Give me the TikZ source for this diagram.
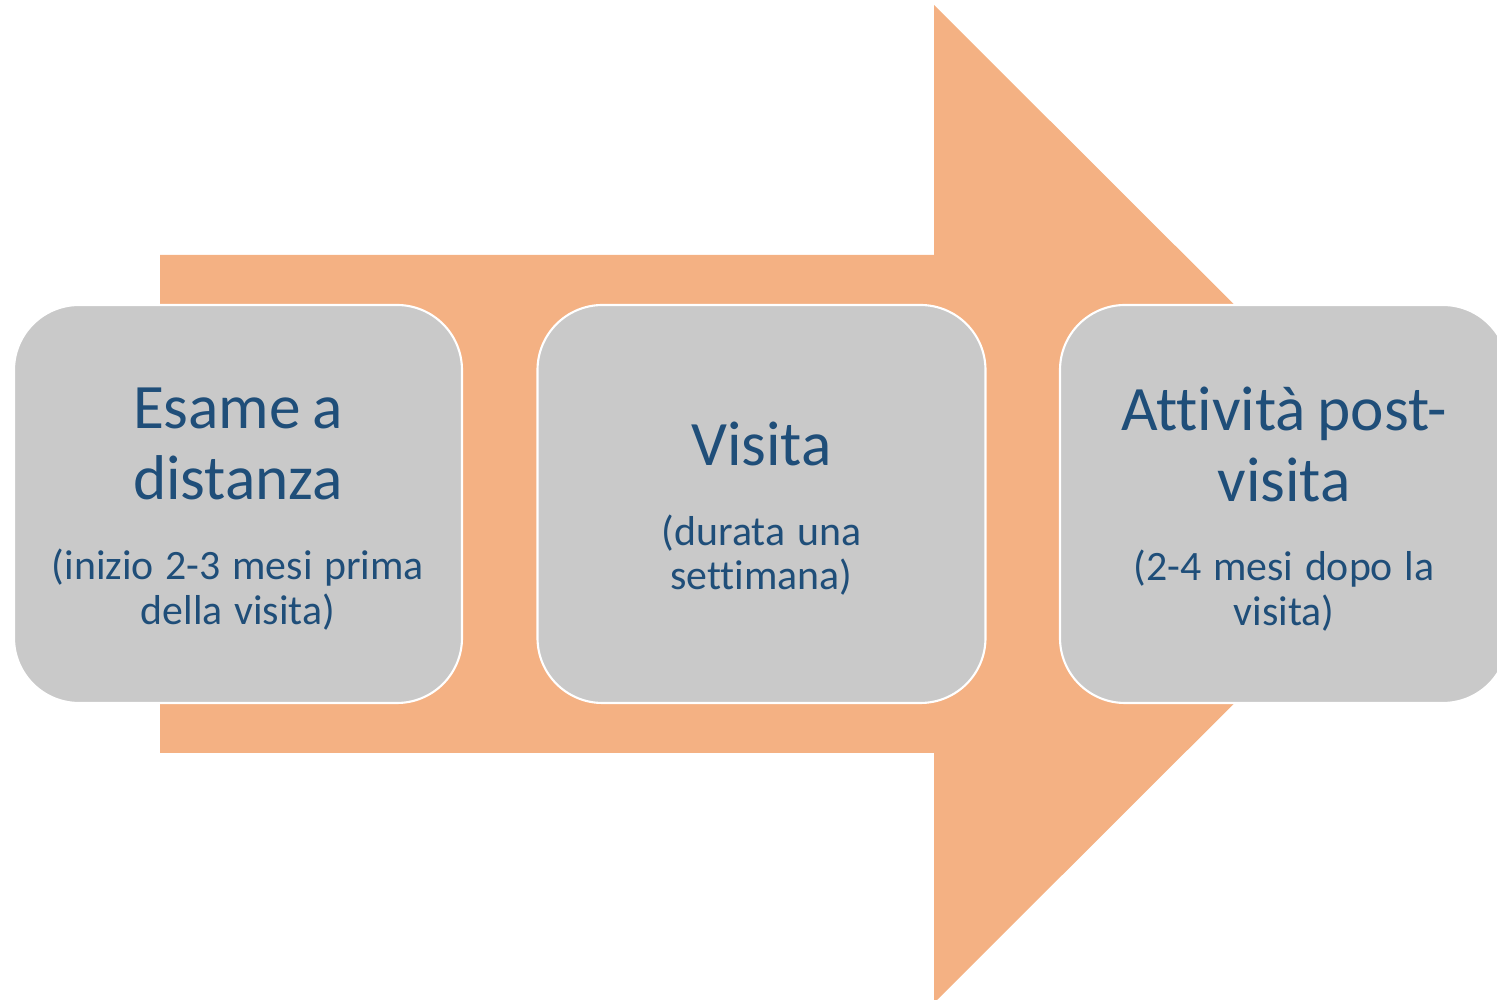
\documentclass[tikz,border=0pt]{standalone}
\usepackage{fontspec}
\setmainfont{Carlito}[Ligatures=NoCommon]

\definecolor{freccia}{HTML}{F4B183}
\definecolor{grigio}{HTML}{C9C9C9}
\definecolor{blu}{HTML}{1F4E79}

\newcommand{\titolo}[1]{{\fontsize{18}{20.2}\selectfont #1\par}}
\newcommand{\nota}[1]{\vspace{10pt}{\fontsize{11.9}{12.7}\selectfont #1\par}\vspace{-2.8pt}}

\tikzset{
  tappa/.style={draw=white, line width=0.6pt, fill=grigio, rounded corners=0.65cm,
    minimum width=4.48cm, minimum height=3.98cm, text width=4.3cm, align=center,
    text=blu, inner sep=0pt},
}

\begin{document}
\begin{tikzpicture}
    \useasboundingbox (0,0) rectangle (14.97,-10);
    \fill[freccia] (1.60,-2.55) -- (9.34,-2.55) -- (9.34,-0.05) -- (14.34,-5.04)
        -- (9.34,-10.03) -- (9.34,-7.53) -- (1.60,-7.53) -- cycle;
    \node[tappa] (esame) at (2.38,-5.04) {\titolo{Esame a\\distanza}\nota{(inizio 2-3 mesi prima\\della visita)}};
    \node[tappa] (visita) at (7.615,-5.04) {\titolo{Visita}\nota{(durata una\\settimana)}};
    \node[tappa] (dopo) at (12.84,-5.04) {\titolo{Attività post-\\visita}\nota{(2-4 mesi dopo la\\visita)}};
\end{tikzpicture}
\end{document}
